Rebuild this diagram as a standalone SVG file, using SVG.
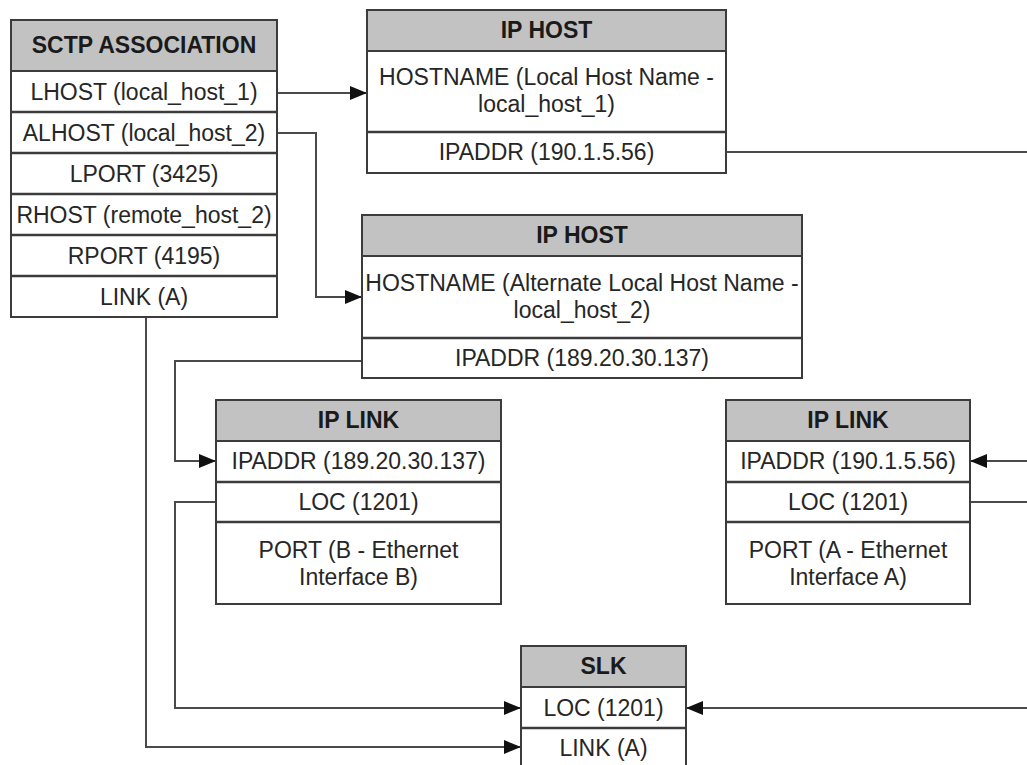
<svg xmlns="http://www.w3.org/2000/svg" width="1027" height="765" viewBox="0 0 1027 765">
<style>
.box{fill:#ffffff;stroke:#3c3c3c;stroke-width:2}
.hdr{fill:#c2c2c2;stroke:#3c3c3c;stroke-width:2}
.div{stroke:#3c3c3c;stroke-width:2.5;fill:none}
.t{font-family:"Liberation Sans",Arial,sans-serif;font-size:23px;fill:#262626;text-anchor:middle}
.h{font-family:"Liberation Sans",Arial,sans-serif;font-size:23px;font-weight:bold;fill:#1a1a1a;text-anchor:middle}
.c{fill:none;stroke:#4a4a4a;stroke-width:2}
.ca{fill:none;stroke:#4a4a4a;stroke-width:2;marker-end:url(#arr)}
</style>
<defs>
<marker id="arr" markerUnits="userSpaceOnUse" markerWidth="18" markerHeight="14" refX="17" refY="7" orient="auto">
<path d="M0,0 L17,7 L0,14 z" fill="#111"/>
</marker>
</defs>
<rect width="1027" height="765" fill="#ffffff"/>

<g id="connectors">
<path class="ca" d="M277,93 H367"/>
<path class="ca" d="M277,133 H316 V297 H362"/>
<path class="c" d="M726,152 H1027"/>
<path class="ca" d="M362,361 H175 V461 H216"/>
<path class="ca" d="M1027,461 H970"/>
<path class="c" d="M970,502 H1027"/>
<path class="ca" d="M216,502 H175 V708 H521"/>
<path class="ca" d="M146,317 V747 H521"/>
<path class="ca" d="M1027,708 H686"/>
</g>

<g id="sctp-association">
<rect class="box" x="11" y="20" width="266" height="297"/>
<rect class="hdr" x="11" y="20" width="266" height="51"/>
<path class="div" d="M11,112 H277 M11,153 H277 M11,194 H277 M11,235 H277 M11,276 H277"/>
<text class="h" x="144" y="53">SCTP ASSOCIATION</text>
<text class="t" x="144" y="100">LHOST (local_host_1)</text>
<text class="t" x="144" y="141">ALHOST (local_host_2)</text>
<text class="t" x="144" y="182">LPORT (3425)</text>
<text class="t" x="144" y="223">RHOST (remote_host_2)</text>
<text class="t" x="144" y="264">RPORT (4195)</text>
<text class="t" x="144" y="305">LINK (A)</text>
</g>

<g id="ip-host-1">
<rect class="box" x="367" y="10" width="359" height="163"/>
<rect class="hdr" x="367" y="10" width="359" height="41"/>
<path class="div" d="M367,132 H726"/>
<text class="h" x="546.5" y="38">IP HOST</text>
<text class="t" x="546.5" y="85">HOSTNAME (Local Host Name -</text>
<text class="t" x="546.5" y="112">local_host_1)</text>
<text class="t" x="546.5" y="160">IPADDR (190.1.5.56)</text>
</g>

<g id="ip-host-2">
<rect class="box" x="362" y="215" width="440" height="163"/>
<rect class="hdr" x="362" y="215" width="440" height="41"/>
<path class="div" d="M362,338 H802"/>
<text class="h" x="582" y="243">IP HOST</text>
<text class="t" x="582" y="291">HOSTNAME (Alternate Local Host Name -</text>
<text class="t" x="582" y="318">local_host_2)</text>
<text class="t" x="582" y="366">IPADDR (189.20.30.137)</text>
</g>

<g id="ip-link-b">
<rect class="box" x="216" y="400" width="285" height="204"/>
<rect class="hdr" x="216" y="400" width="285" height="41"/>
<path class="div" d="M216,482 H501 M216,522 H501"/>
<text class="h" x="358.5" y="428">IP LINK</text>
<text class="t" x="358.5" y="469">IPADDR (189.20.30.137)</text>
<text class="t" x="358.5" y="510">LOC (1201)</text>
<text class="t" x="358.5" y="558">PORT (B - Ethernet</text>
<text class="t" x="358.5" y="585">Interface B)</text>
</g>

<g id="ip-link-a">
<rect class="box" x="726" y="400" width="244" height="204"/>
<rect class="hdr" x="726" y="400" width="244" height="41"/>
<path class="div" d="M726,482 H970 M726,522 H970"/>
<text class="h" x="848" y="428">IP LINK</text>
<text class="t" x="848" y="469">IPADDR (190.1.5.56)</text>
<text class="t" x="848" y="510">LOC (1201)</text>
<text class="t" x="848" y="558">PORT (A - Ethernet</text>
<text class="t" x="848" y="585">Interface A)</text>
</g>

<g id="slk">
<rect class="box" x="521" y="646" width="165" height="124"/>
<rect class="hdr" x="521" y="646" width="165" height="41"/>
<path class="div" d="M521,728 H686"/>
<text class="h" x="603.5" y="674">SLK</text>
<text class="t" x="603.5" y="716">LOC (1201)</text>
<text class="t" x="603.5" y="756">LINK (A)</text>
</g>
</svg>
